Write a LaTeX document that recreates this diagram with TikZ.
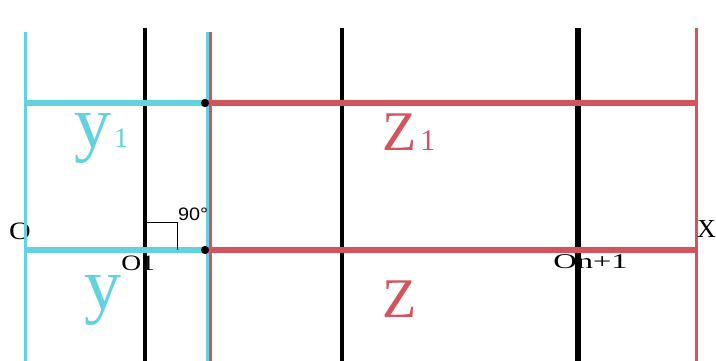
\documentclass[tikz,border=0pt]{standalone}
\usepackage{fontspec}
\setmainfont{Liberation Serif}
\newfontfamily\labsans{Liberation Sans}
\definecolor{cy}{RGB}{98,210,224}
\definecolor{rd}{RGB}{212,84,94}
\begin{document}
\begin{tikzpicture}[x=1pt,y=-1pt,
  cyv/.style={cy,line width=3pt},
  cyh/.style={cy,line width=5.5pt},
  rdv/.style={rd,line width=3pt},
  rdh/.style={rd,line width=5.5pt},
  blv/.style={black,line width=3.5pt},
  bigc/.style={text=cy,font=\fontsize{74}{74}\selectfont,inner sep=0pt},
  bigr/.style={text=rd,font=\fontsize{56}{56}\selectfont,inner sep=0pt},
  lab/.style={inner sep=0pt,anchor=base west},
  dotn/.style={circle,fill=black,inner sep=0pt,minimum size=8pt}]
\useasboundingbox (0,0) rectangle (716,361);
% labels under lines
\node[lab,font=\fontsize{25}{25}\selectfont,xscale=1.2] (o) at (9,239) {O};
\node[lab,font=\fontsize{22}{22}\selectfont,xscale=1.25] (o1) at (121,270) {O1};
\node[lab,font=\fontsize{21}{21}\selectfont,xscale=1.55] (on) at (553,268) {On+1};
% coordinates
\coordinate (c1t) at (25,32);   \coordinate (c1b) at (25,361);
\coordinate (b1t) at (145,28);  \coordinate (b1b) at (145,361);
\coordinate (c2t) at (207,32);  \coordinate (c2b) at (207,361);
\coordinate (r2t) at (210,32);  \coordinate (r2b) at (210,361);
\coordinate (b2t) at (342,28);  \coordinate (b2b) at (342,361);
\coordinate (b3t) at (578,28);  \coordinate (b3b) at (578,361);
\coordinate (r3t) at (696,28);  \coordinate (r3b) at (696,361);
\coordinate (uL) at (25,103);  \coordinate (uR) at (696,103);
\coordinate (lL) at (25,250);  \coordinate (lR) at (696,250);
% verticals
\draw[cyv] (c1t) -- (c1b);
\draw[blv] (b1t) -- (b1b);
\draw[rdv] (r2t) -- (r2b);
\draw[cyv] (c2t) -- (c2b);
\draw[blv] (b2t) -- (b2b);
\draw[black,line width=6pt] (b3t) -- (b3b);
\draw[rdv] (r3t) -- (r3b);
% dots
\node[dotn] (du) at (205,103) {};
\node[dotn] (dl) at (205,250) {};
% horizontals
\draw[cyh] (uL) -- (du.center);
\draw[rdh] (du.center) -- (uR);
\draw[cyh] (lL) -- (dl.center);
\draw[rdh] (dl.center) -- (lR);
\node[dotn] at (du) {};
\node[dotn] at (dl) {};
% right angle
\draw[black,line width=0.8pt] (145,222) -- (177,222) -- (177,250);
\node[inner sep=0pt,font=\labsans\fontsize{18}{18}\selectfont,xscale=1.1,anchor=base west] (ang) at (178,220) {90°};
% labels
\node[bigc,anchor=base west] (y1) at (74,147) {y\kern3pt\fontsize{28}{28}\selectfont 1};
\node[bigc,anchor=base west] (y0) at (84,309) {y};
\node[bigr,anchor=base west] (z1) at (382,150) {Z\kern4pt\fontsize{30}{30}\selectfont 1};
\node[bigr,anchor=base west] (z0) at (382,317) {Z};
\node[lab,font=\fontsize{26}{26}\selectfont] (xx) at (697,237) {X};
\end{tikzpicture}
\end{document}
